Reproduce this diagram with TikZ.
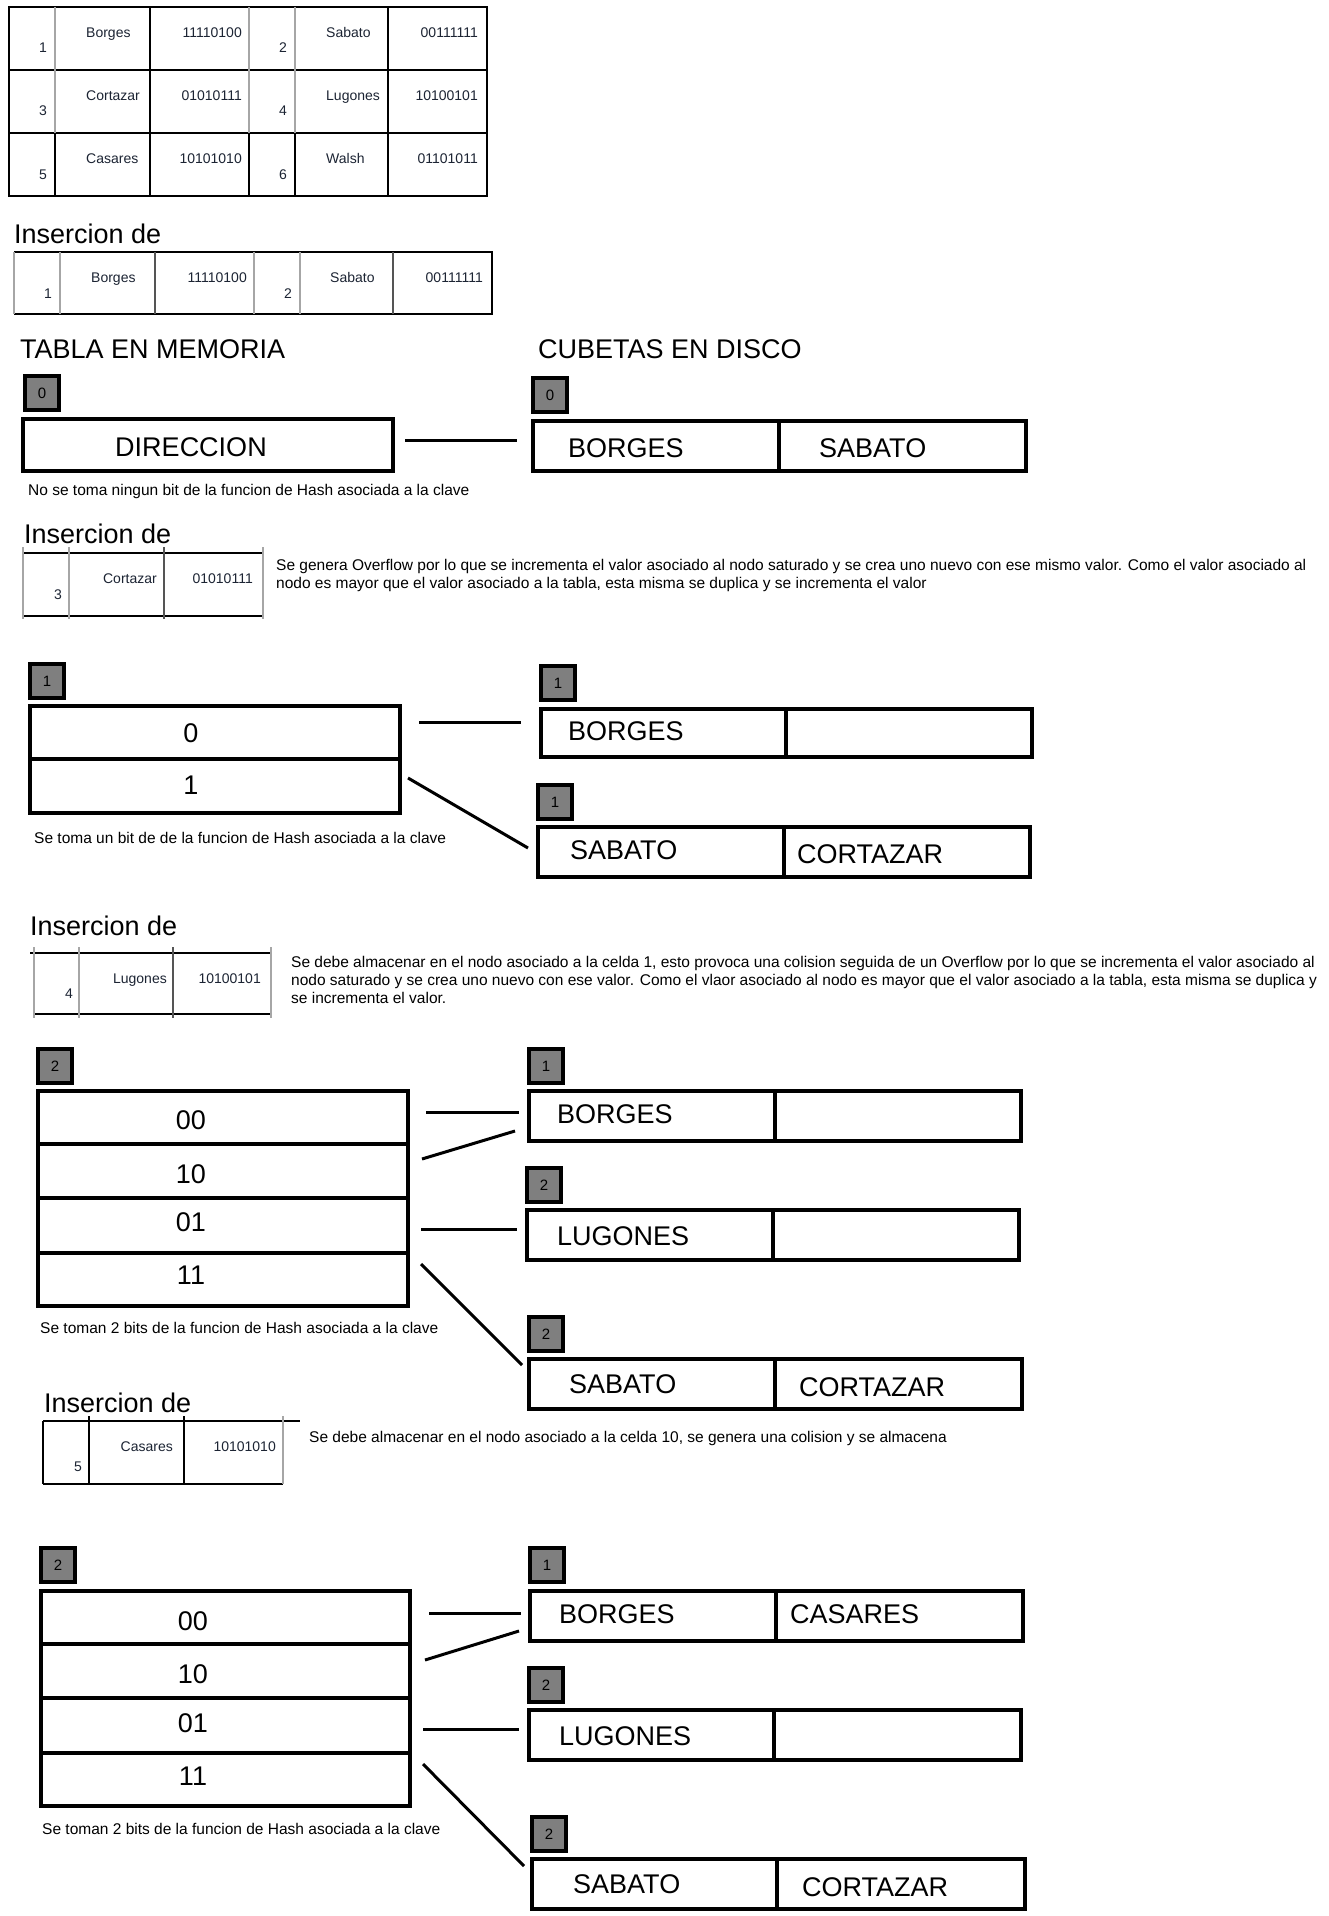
\documentclass[tikz,border=0pt]{standalone}
\usepackage{fontspec}
\setmainfont{Liberation Sans}
\usetikzlibrary{calc}
\definecolor{lvgray}{HTML}{7F7F7F}
\definecolor{tabtxt}{HTML}{1C2433}
\definecolor{tabgray}{HTML}{A6A6A6}
\definecolor{tabdark}{HTML}{555555}
\newcommand{\bkt}[6]{%
  \pgfmathsetmacro\mbWl{#4-#2-2}\pgfmathsetmacro\mbWr{#5-#4-2}\pgfmathsetmacro\mbH{#6-#3-4}%
  \node[cell, minimum width=\mbWl pt, minimum height=\mbH pt] (#1L) at (#2,#3) {};%
  \node[cell, minimum width=\mbWr pt, minimum height=\mbH pt] (#1R) at (#4-2,#3) {};%
}
\newcommand{\rowcell}[5]{%
  \pgfmathsetmacro\mbW{#3-#2-4}\pgfmathsetmacro\mbH{#5-#4}%
  \node[cell, minimum width=\mbW pt, minimum height=\mbH pt] (#1) at (#2,#4-2) {};%
}
\begin{document}
\begin{tikzpicture}[x=1pt,y=-1pt,
  big/.style={font=\fontsize{27}{32}\selectfont, inner sep=0pt},
  small/.style={font=\fontsize{15.5}{18}\selectfont, inner sep=0pt, anchor=base west},
  tab/.style={font=\fontsize{14}{16}\selectfont, text=tabtxt, inner sep=0pt},
  lvl/.style={draw=black, line width=4pt, fill=lvgray, anchor=north west, inner sep=0pt,
    minimum width=34pt, minimum height=34pt, font=\fontsize{15}{18}\selectfont},
  cell/.style={draw=black, line width=4pt, anchor=north west, inner sep=0pt},
  conn/.style={line width=3pt, black},
  tl/.style={line width=1.5pt, black},
  tg/.style={line width=2pt, tabgray},
  td/.style={line width=1.5pt, tabdark},
]
\fill[white] (0,0) rectangle (1328,1916);
\useasboundingbox (0,0) rectangle (1328,1916);

% ---------- top table ----------
\draw[tl] (9,7) rectangle (487,196);
\draw[tl] (9,70) -- (487,70) (9,133) -- (487,133);
\draw[tl] (150,7) -- (150,196) (388,7) -- (388,196);
\draw[tg] (55,7) -- (55,133) (249,7) -- (249,133) (295,7) -- (295,133);
\draw[tl] (55,133) -- (55,196) (249,133) -- (249,196) (295,133) -- (295,196);
\node[tab, anchor=base] (i1) at (43,53) {1};
\node[tab, anchor=base west] (n1) at (86,38) {Borges};
\node[tab, anchor=base east] (k1) at (242,38) {11110100};
\node[tab, anchor=base] (i2) at (283,53) {2};
\node[tab, anchor=base west] (n2) at (326,38) {Sabato};
\node[tab, anchor=base east] (k2) at (478,38) {00111111};
\node[tab, anchor=base] (i3) at (43,116) {3};
\node[tab, anchor=base west] (n3) at (86,101) {Cortazar};
\node[tab, anchor=base east] (k3) at (242,101) {01010111};
\node[tab, anchor=base] (i4) at (283,116) {4};
\node[tab, anchor=base west] (n4) at (326,101) {Lugones};
\node[tab, anchor=base east] (k4) at (478,101) {10100101};
\node[tab, anchor=base] (i5) at (43,179) {5};
\node[tab, anchor=base west] (n5) at (86,164) {Casares};
\node[tab, anchor=base east] (k5) at (242,164) {10101010};
\node[tab, anchor=base] (i6) at (283,179) {6};
\node[tab, anchor=base west] (n6) at (326,164) {Walsh};
\node[tab, anchor=base east] (k6) at (478,164) {01101011};

% ---------- insertion 1 ----------
\node[big, anchor=base west] (ins1) at (14,243) {Insercion de};
\draw[tl] (14,252) -- (492,252) -- (492,314) -- (14,314);
\draw[tg] (14,252) -- (14,314) (60,252) -- (60,314) (254,252) -- (254,314) (300,252) -- (300,314);
\draw[td] (155,252) -- (155,314) (393,252) -- (393,314);
\node[tab, anchor=base] (j1) at (48,298) {1};
\node[tab, anchor=base west] (m1) at (91,282) {Borges};
\node[tab, anchor=base east] (h1) at (247,282) {11110100};
\node[tab, anchor=base] (j2) at (288,298) {2};
\node[tab, anchor=base west] (m2) at (330,282) {Sabato};
\node[tab, anchor=base east] (h2) at (483,282) {00111111};

\node[big, anchor=base west] (tabmem) at (20,358) {TABLA EN MEMORIA};
\node[big, anchor=base west] (cubdisk) at (538,358) {CUBETAS EN DISCO};

% ---------- state 0 ----------
\node[lvl] (lv1L) at (23,374) {0};
\rowcell{dir}{21}{395}{419}{471}
\node[big, anchor=base] (dirt) at (191,456) {DIRECCION};
\node[lvl] (lv1R) at (531,376) {0};
\bkt{b1}{531}{419}{779}{1028}{473}
\node[big, anchor=base west] (b1t1) at (568,457) {BORGES};
\node[big, anchor=base west] (b1t2) at (819,457) {SABATO};
\draw[conn] ($(dir.east)+(10,-5)$) -- ($(b1L.west)+(-14,-6)$);
\node[small] (d1) at (28,495) {No se toma ningun bit de la funcion de Hash asociada a la clave};

% ---------- insertion 3 ----------
\node[big, anchor=base west] (ins3) at (24,543) {Insercion de};
\draw[tl] (23,553) -- (263,553) (23,616) -- (263,616);
\draw[tg] (23,547) -- (23,619) (69,547) -- (69,619) (263,547) -- (263,619);
\draw[td] (164,547) -- (164,619);
\node[tab, anchor=base] (j3) at (58,599) {3};
\node[tab, anchor=base east] (m3) at (157,583) {Cortazar};
\node[tab, anchor=base east] (h3) at (253,583) {01010111};
\node[small] (p3a) at (276,570) {Se genera Overflow por lo que se incrementa el valor asociado al nodo saturado y se crea uno nuevo con ese mismo valor. Como el valor asociado al};
\node[small] (p3b) at (276,588) {nodo es mayor que el valor asociado a la tabla, esta misma se duplica y se incrementa el valor};

% ---------- state 1 ----------
\node[lvl] (lv3L) at (28,662) {1};
\rowcell{r3a}{28}{402}{706}{759}
\rowcell{r3b}{28}{402}{759}{813}
\node[big, anchor=base] (t3a) at (191,742) {0};
\node[big, anchor=base] (t3b) at (191,794) {1};
\node[lvl] (lv3Ra) at (539,664) {1};
\bkt{b3a}{539}{707}{786}{1034}{759}
\node[big, anchor=base west] (b3at) at (568,740) {BORGES};
\node[lvl] (lv3Rb) at (536,783) {1};
\bkt{b3b}{536}{825}{784}{1032}{879}
\node[big, anchor=base west] (b3bt1) at (570,859) {SABATO};
\node[big, anchor=base west] (b3bt2) at (797,863) {CORTAZAR};
\draw[conn] ($(r3a.east)+(17,-10.5)$) -- ($(b3aL.west)+(-18,-11)$);
\draw[conn] ($(r3b.east)+(6,-8)$) -- ($(b3bL.west)+(-8,-4)$);
\node[small] (d3) at (34,843) {Se toma un bit de de la funcion de Hash asociada a la clave};

% ---------- insertion 4 ----------
\node[big, anchor=base west] (ins4) at (30,935) {Insercion de};
\draw[tl] (30,953) -- (271,953) (34,1014) -- (271,1014);
\draw[tg] (34,947) -- (34,1018) (79,947) -- (79,1018) (271,947) -- (271,1018);
\draw[td] (173,947) -- (173,1018);
\node[tab, anchor=base] (j4) at (69,998) {4};
\node[tab, anchor=base east] (m4) at (167,983) {Lugones};
\node[tab, anchor=base east] (h4) at (261,983) {10100101};
\node[small] (p4a) at (291,967) {Se debe almacenar en el nodo asociado a la celda 1, esto provoca una colision seguida de un Overflow por lo que se incrementa el valor asociado al};
\node[small] (p4b) at (291,985) {nodo saturado y se crea uno nuevo con ese valor. Como el vlaor asociado al nodo es mayor que el valor asociado a la tabla, esta misma se duplica y};
\node[small] (p4c) at (291,1003) {se incrementa el valor.};

% ---------- state 2 ----------
\node[lvl] (lv4L) at (36,1047) {2};
\rowcell{r4a}{36}{410}{1091}{1144}
\rowcell{r4b}{36}{410}{1144}{1198}
\rowcell{r4c}{36}{410}{1198}{1253}
\rowcell{r4d}{36}{410}{1253}{1306}
\node[big, anchor=base] (t4a) at (191,1129) {00};
\node[big, anchor=base] (t4b) at (191,1183) {10};
\node[big, anchor=base] (t4c) at (191,1231) {01};
\node[big, anchor=base] (t4d) at (191,1284) {11};
\node[lvl] (lv4Ra) at (527,1047) {1};
\bkt{b4a}{527}{1089}{775}{1023}{1143}
\node[big, anchor=base west] (b4at) at (557,1123) {BORGES};
\node[lvl] (lv4Rb) at (525,1166) {2};
\bkt{b4b}{525}{1208}{773}{1021}{1262}
\node[big, anchor=base west] (b4bt) at (557,1245) {LUGONES};
\node[lvl] (lv4Rc) at (527,1315) {2};
\bkt{b4c}{527}{1357}{775}{1024}{1411}
\node[big, anchor=base west] (b4ct1) at (569,1393) {SABATO};
\node[big, anchor=base west] (b4ct2) at (799,1396) {CORTAZAR};
\draw[conn] ($(r4a.east)+(16,-5.5)$) -- ($(b4aL.west)+(-8,-4)$);
\draw[conn] ($(r4b.east)+(12,-12)$) -- ($(b4aL.west)+(-12,15)$);
\draw[conn] ($(r4c.east)+(11,3.5)$) -- ($(b4bL.west)+(-8,-6)$);
\draw[conn] ($(r4d.east)+(11,-15.5)$) -- ($(b4cL.west)+(-5,-19)$);
\node[small] (d4) at (40,1333) {Se toman 2 bits de la funcion de Hash asociada a la clave};

% ---------- insertion 5 ----------
\node[big, anchor=base west] (ins5) at (44,1412) {Insercion de};
\draw[tl] (43,1421) -- (300,1421) (43,1484) -- (283,1484);
\draw[tl] (43,1421) -- (43,1484) (89,1416) -- (89,1484) (184,1416) -- (184,1484);
\draw[tg] (283,1416) -- (283,1484);
\node[tab, anchor=base] (j5) at (78,1471) {5};
\node[tab, anchor=base east] (m5) at (173,1451) {Casares};
\node[tab, anchor=base east] (h5) at (276,1451) {10101010};
\node[small] (p5) at (309,1442) {Se debe almacenar en el nodo asociado a la celda 10, se genera una colision y se almacena};

% ---------- state 2 bis ----------
\node[lvl] (lv5L) at (39,1546) {2};
\rowcell{r5a}{39}{412}{1591}{1644}
\rowcell{r5b}{39}{412}{1644}{1698}
\rowcell{r5c}{39}{412}{1698}{1753}
\rowcell{r5d}{39}{412}{1753}{1806}
\node[big, anchor=base] (t5a) at (193,1630) {00};
\node[big, anchor=base] (t5b) at (193,1683) {10};
\node[big, anchor=base] (t5c) at (193,1732) {01};
\node[big, anchor=base] (t5d) at (193,1785) {11};
\node[lvl] (lv5Ra) at (528,1546) {1};
\bkt{b5a}{528}{1589}{776}{1025}{1643}
\node[big, anchor=base west] (b5at1) at (559,1623) {BORGES};
\node[big, anchor=base west] (b5at2) at (790,1623) {CASARES};
\node[lvl] (lv5Rb) at (527,1666) {2};
\bkt{b5b}{527}{1708}{774}{1023}{1762}
\node[big, anchor=base west] (b5bt) at (559,1745) {LUGONES};
\node[lvl] (lv5Rc) at (530,1815) {2};
\bkt{b5c}{530}{1857}{777}{1027}{1911}
\node[big, anchor=base west] (b5ct1) at (573,1893) {SABATO};
\node[big, anchor=base west] (b5ct2) at (802,1896) {CORTAZAR};
\draw[conn] ($(r5a.east)+(17,-4.5)$) -- ($(b5aL.west)+(-7,-3)$);
\draw[conn] ($(r5b.east)+(13,-11)$) -- ($(b5aL.west)+(-9,15)$);
\draw[conn] ($(r5c.east)+(11,3.5)$) -- ($(b5bL.west)+(-8,-6)$);
\draw[conn] ($(r5d.east)+(11,-15.5)$) -- ($(b5cL.west)+(-6,-18)$);
\node[small] (d5) at (42,1834) {Se toman 2 bits de la funcion de Hash asociada a la clave};
\end{tikzpicture}
\end{document}
